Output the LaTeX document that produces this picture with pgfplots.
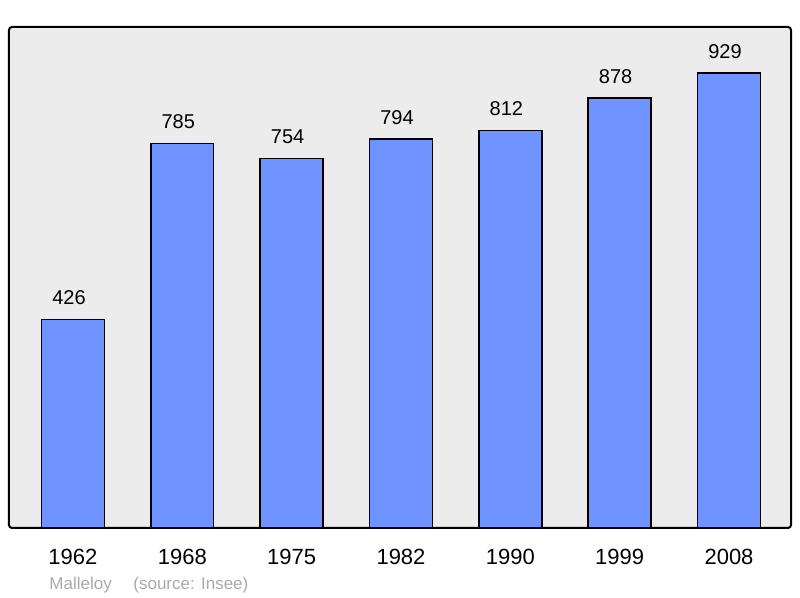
\documentclass[border=0pt]{standalone}
\usepackage{pgfplots}
\pgfplotsset{compat=1.18}
\usepackage{fontspec}
\setmainfont{Liberation Sans}
\definecolor{barblue}{HTML}{7094FF}
\definecolor{bggray}{HTML}{ECECEC}
\definecolor{srcgray}{HTML}{AAAAAA}
\begin{document}
\begin{tikzpicture}[x=1pt,y=1pt]
\path (-4.5,-35) rectangle (395.5,264);
\begin{axis}[
  at={(0,0)}, anchor=south west,
  scale only axis,
  width=391pt, height=250.5pt,
  xmin=-0.585, xmax=6.567,
  ymin=0, ymax=1023,
  axis background/.style={fill=bggray},
  axis line style={line width=1pt, rounded corners=1.5pt},
  ybar, bar width=0.576,
  bar shift=0pt,
  xtick=data,
  xticklabels={1962,1968,1975,1982,1990,1999,2008},
  ytick=\empty,
  major tick length=0pt,
  xticklabel style={font=\fontsize{11}{13}\selectfont, anchor=north, inner sep=0pt, yshift=-10.5pt},
  /pgf/number format/assume math mode=true,
  nodes near coords,
  nodes near coords style={font=\fontsize{10}{12}\selectfont, anchor=south, inner sep=0pt, yshift=7pt, xshift=-2pt},
  clip=false,
]
\addplot[fill=barblue, draw=black, line width=0.7pt] coordinates {
(0,426) (1,785) (2,754) (3,794) (4,812) (5,878) (6,929)};
\node[anchor=base west, text=srcgray, font=\fontsize{8.5}{10}\selectfont, inner sep=0pt] at (rel axis cs:0.0512,0) [yshift=-31pt] {Malleloy};
\node[anchor=base west, text=srcgray, font=\fontsize{8.5}{10}\selectfont, inner sep=0pt] at (rel axis cs:0.1586,0) [yshift=-31pt] {(source: Insee)};
\end{axis}
\end{tikzpicture}
\end{document}
